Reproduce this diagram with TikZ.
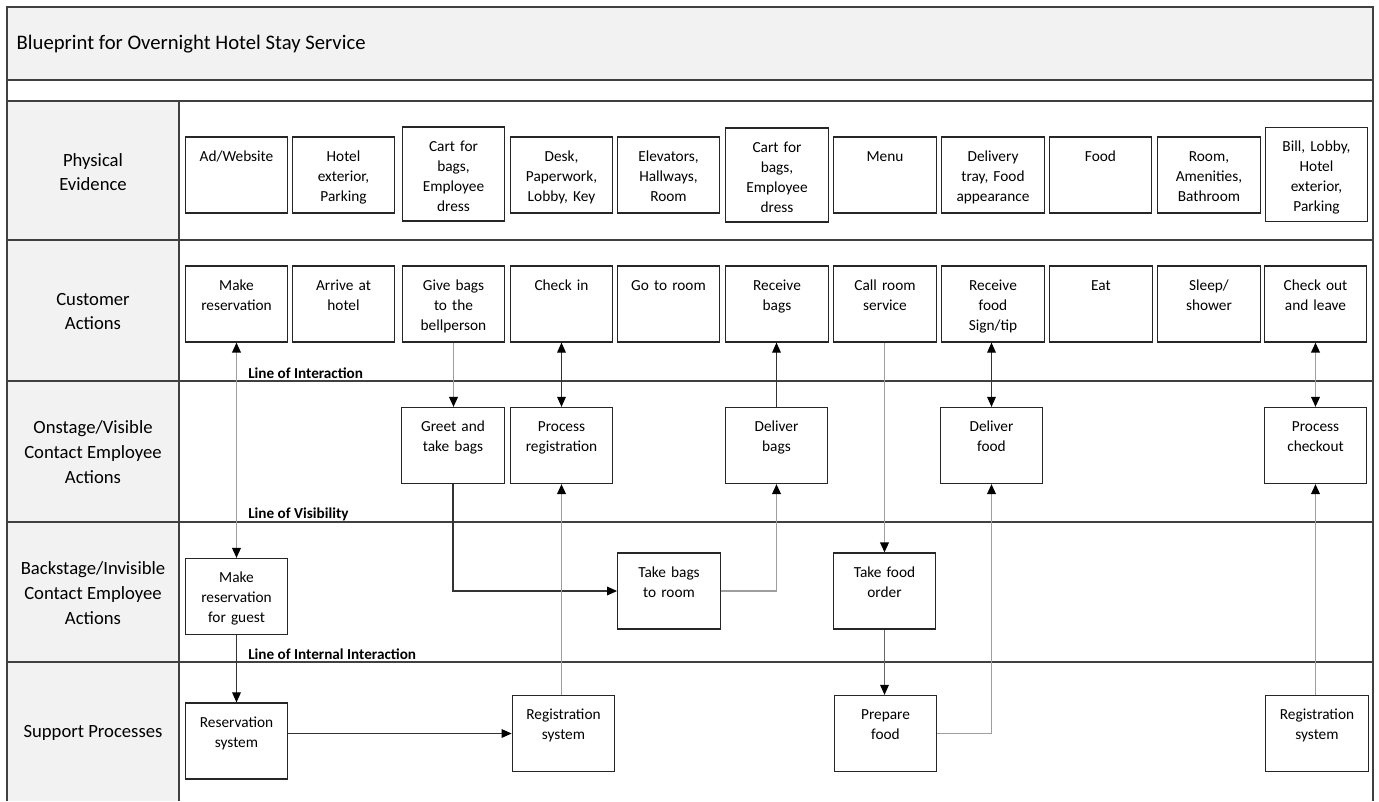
\documentclass[tikz,border=0pt]{standalone}
\usepackage{fontspec}
\setmainfont{Carlito}
\usetikzlibrary{arrows.meta}
\tikzset{
  item box/.style={
    draw=black!85,
    line width=0.9pt,
    fill=white,
    align=center,
    text width=71pt,
    inner xsep=3pt,
    inner ysep=6pt,
    text height=12pt,
    text depth=33pt,
    font=\fontsize{11.5}{15}\selectfont,
  },
  tall box/.style={item box, text depth=46.5pt},
  lane label/.style={align=center, font=\fontsize{14}{18.5}\selectfont},
  line label/.style={anchor=base west, inner sep=0pt, font=\bfseries\fontsize{11.4}{13}\selectfont},
  grid line/.style={draw=black!75, line width=1.5pt},
  flow/.style={line width=0.8pt, draw=black!80, -{Triangle[length=7.5pt,width=6.5pt,color=black]}},
  two way/.style={line width=0.8pt, draw=black!80, {Triangle[length=7.5pt,width=6.5pt,color=black]}-{Triangle[length=7.5pt,width=6.5pt,color=black]}},
  faint/.style={draw=black!38, line width=1.2pt},
}

\begin{document}
\begin{tikzpicture}[x=0.75pt, y=-0.75pt]
  \useasboundingbox (0,0) rectangle (1379,801);

  % frame and lanes
  \fill[black!5] (7,7) rectangle (1373,80);
  \fill[black!5] (7,101) rectangle (179,801);
  \draw[grid line] (7,801) -- (7,7) -- (1373,7) -- (1373,801);
  \draw[grid line] (7,80) -- (1373,80);
  \draw[grid line] (7,101) -- (1373,101);
  \draw[grid line] (7,240) -- (1373,240);
  \draw[grid line] (7,381) -- (1373,381);
  \draw[grid line] (7,522) -- (1373,522);
  \draw[grid line] (7,662) -- (1373,662);
  \draw[grid line] (179,101) -- (179,801);

  \node[anchor=west, font=\fontsize{15.5}{18}\selectfont] (title) at (12,44) {Blueprint for Overnight Hotel Stay Service};

  \node[lane label] (lpe) at (93,172) {Physical\\Evidence};
  \node[lane label] (lca) at (93,311.5) {Customer\\Actions};
  \node[lane label] (lon) at (93,452) {Onstage/Visible\\Contact Employee\\Actions};
  \node[lane label] (lbk) at (93,593) {Backstage/Invisible\\Contact Employee\\Actions};
  \node[lane label] (lsp) at (93,733) {Support Processes};

  \node[line label] (lint) at (248,378) {Line of Interaction};
  \node[line label] (lvis) at (248,518) {Line of Visibility};
  \node[line label] (lintern) at (248,659) {Line of Internal Interaction};

  % physical evidence
  \node[item box] (pe1) at (236.5,175) {Ad/Website};
  \node[item box] (pe2) at (343.5,175) {Hotel\\exterior,\\Parking};
  \node[tall box] (pe3) at (453.5,174) {Cart for\\bags,\\Employee\\dress};
  \node[item box] (pe4) at (561.5,175) {Desk,\\Paperwork,\\Lobby, Key};
  \node[item box] (pe5) at (668.5,175) {Elevators,\\Hallways,\\Room};
  \node[tall box] (pe6) at (777,175) {Cart for\\bags,\\Employee\\dress};
  \node[item box] (pe7) at (885,175) {Menu};
  \node[item box] (pe8) at (993,175) {Delivery\\tray, Food\\appearance};
  \node[item box] (pe9) at (1100.5,175) {Food};
  \node[item box] (pe10) at (1209,175) {Room,\\Amenities,\\Bathroom};
  \node[tall box] (pe11) at (1316.5,174.5) {Bill, Lobby,\\Hotel\\exterior,\\Parking};

  % customer actions
  \node[item box] (ca1) at (236.5,304) {Make\\reservation};
  \node[item box] (ca2) at (343.5,304) {Arrive at\\hotel};
  \node[item box] (ca3) at (453.5,304) {Give bags\\to the\\bellperson};
  \node[item box] (ca4) at (561.5,304) {Check in};
  \node[item box] (ca5) at (668.5,304) {Go to room};
  \node[item box] (ca6) at (777,304) {Receive\\bags};
  \node[item box] (ca7) at (885,304) {Call room\\service};
  \node[item box] (ca8) at (993,304) {Receive\\food\\Sign/tip};
  \node[item box] (ca9) at (1101,304) {Eat};
  \node[item box] (ca10) at (1209,304) {Sleep/\\shower};
  \node[item box] (ca11) at (1315.5,304) {Check out\\and leave};

  % onstage
  \node[item box] (oe1) at (453,445.5) {Greet and\\take bags};
  \node[item box] (oe2) at (561.5,445.5) {Process\\registration};
  \node[item box] (oe3) at (776.5,445.5) {Deliver\\bags};
  \node[item box] (oe4) at (991.5,445.5) {Deliver\\food};
  \node[item box] (oe5) at (1315.5,445.5) {Process\\checkout};

  % backstage
  \node[item box] (be1) at (236.5,596.5) {Make\\reservation\\for guest};
  \node[item box] (be2) at (669,591) {Take bags\\to room};
  \node[item box] (be3) at (884.5,591) {Take food\\order};

  % support
  \node[item box] (sp1) at (236.5,741) {Reservation\\system};
  \node[item box] (sp2) at (563.5,733.5) {Registration\\system};
  \node[item box] (sp3) at (885.5,733.5) {Prepare\\food};
  \node[item box] (sp4) at (1317,733.5) {Registration\\system};

  % connectors
  \draw[two way, faint] (ca1.south) -- (be1.north);
  \draw[flow] (be1.south) -- (sp1.north);
  \draw[flow] (sp1.east |- sp2.west) -- (sp2.west);
  \draw[flow, faint] (ca3.south) -- (ca3.south |- oe1.north);
  \draw[two way] (ca4.south) -- (ca4.south |- oe2.north);
  \draw[flow] (oe1.south) |- (be2.west);
  \draw[flow, faint] (oe2.south |- sp2.north) -- (oe2.south);
  \draw[flow, faint] (be2.east) -| (oe3.south);
  \draw[flow] (oe3.north) -- (oe3.north |- ca6.south);
  \draw[flow, faint] (be3.north |- ca7.south) -- (be3.north);
  \draw[flow, draw=black!60] (be3.south) -- (be3.south |- sp3.north);
  \draw[flow, faint] (sp3.east) -| (oe4.south);
  \draw[two way] (oe4.north |- ca8.south) -- (oe4.north);
  \draw[two way, faint] (ca11.south) -- (ca11.south |- oe5.north);
  \draw[flow, faint] (oe5.south |- sp4.north) -- (oe5.south);
\end{tikzpicture}
\end{document}
